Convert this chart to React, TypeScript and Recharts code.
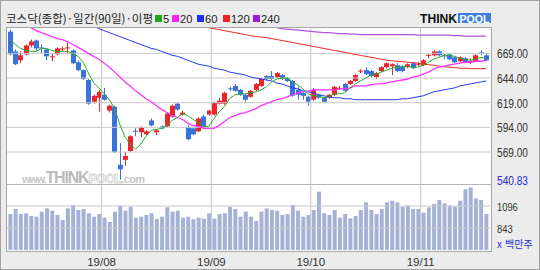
import React from "react";
import { ComposedChart, Bar, Line, XAxis, YAxis, ReferenceLine } from "recharts";

// 코스닥 일봉, 2019-07-08 ~ 2019-11-19
const dates = [
  "2019-07-08", "2019-07-09", "2019-07-10", "2019-07-11", "2019-07-12", "2019-07-15", "2019-07-16", "2019-07-17", "2019-07-18", "2019-07-19",
  "2019-07-22", "2019-07-23", "2019-07-24", "2019-07-25", "2019-07-26", "2019-07-29", "2019-07-30", "2019-07-31",
  "2019-08-01", "2019-08-02", "2019-08-05", "2019-08-06", "2019-08-07", "2019-08-08", "2019-08-09", "2019-08-12", "2019-08-13", "2019-08-14",
  "2019-08-16", "2019-08-19", "2019-08-20", "2019-08-21", "2019-08-22", "2019-08-23", "2019-08-26", "2019-08-27", "2019-08-28", "2019-08-29", "2019-08-30",
  "2019-09-02", "2019-09-03", "2019-09-04", "2019-09-05", "2019-09-06", "2019-09-09", "2019-09-10", "2019-09-11", "2019-09-16", "2019-09-17",
  "2019-09-18", "2019-09-19", "2019-09-20", "2019-09-23", "2019-09-24", "2019-09-25", "2019-09-26", "2019-09-27", "2019-09-30",
  "2019-10-01", "2019-10-02", "2019-10-04", "2019-10-07", "2019-10-08", "2019-10-10", "2019-10-11", "2019-10-14", "2019-10-15", "2019-10-16",
  "2019-10-17", "2019-10-18", "2019-10-21", "2019-10-22", "2019-10-23", "2019-10-24", "2019-10-25", "2019-10-28", "2019-10-29", "2019-10-30", "2019-10-31",
  "2019-11-01", "2019-11-04", "2019-11-05", "2019-11-06", "2019-11-07", "2019-11-08", "2019-11-11", "2019-11-12", "2019-11-13", "2019-11-14",
  "2019-11-15", "2019-11-18", "2019-11-19",
];

const opens = [
  691, 671, 662, 668, 677, 682, 675, 673, 665, 668,
  673, 674, 672, 660, 652, 642, 620, 624, 627, 611,
  615, 556, 561, 570, 590.5, 589, 587, 601, 589, 595,
  595, 605, 618, 607, 594, 593, 590, 605, 607, 607,
  618, 618, 633.5, 636, 632, 627, 625, 632, 636, 646,
  646, 645, 647, 644, 641, 632, 629, 625, 622, 627,
  624, 624, 627, 633.5, 638, 638, 641, 651, 652, 651,
  645, 651, 655, 656, 657, 656, 655, 659, 657.5, 657,
  667, 667, 671, 667, 668, 665, 661, 664, 660.5, 661,
  670, 667,
];
const highs = [
  693, 673, 671, 678, 683, 683, 678, 674, 669, 675,
  676, 680, 673, 662, 653, 643, 627, 632, 634, 617,
  616, 578, 569, 586, 593, 595, 591, 603, 592, 596,
  609, 617, 619, 611, 596, 594, 604, 607, 612, 620,
  624, 630, 635, 638, 633, 628, 632, 639, 644, 647,
  651, 650, 648, 645, 642, 635, 630, 626, 634, 628,
  625, 628, 636, 636, 639, 642, 648, 653, 655, 652,
  650, 656, 660, 659, 659, 657, 659, 660, 660, 663,
  669, 672, 672, 669, 669, 666, 666, 665, 664, 668,
  672, 669,
];
const lows = [
  667, 657, 659, 667, 675, 672, 669, 662, 661, 667,
  671, 668, 658, 651, 642, 617, 618, 610, 621, 609,
  568, 540.83, 555, 569, 585, 584, 586, 595, 586, 592,
  594, 604, 611, 606, 581, 586, 589, 593, 606, 606,
  617, 617, 631, 630, 626, 620, 624, 631, 635, 642,
  642, 644, 642, 640, 625, 622, 622, 616, 621, 623,
  619, 623, 626, 632, 630, 637, 640, 649, 647, 645,
  643, 650, 654, 647, 650, 650, 654, 653, 656, 656,
  664, 666, 666, 663, 662, 659, 660, 659, 658, 660,
  667, 661,
];
const closes = [
  668, 658, 667, 677, 681, 674, 674, 666, 666, 674,
  674, 675, 659, 652, 643, 618, 626, 630, 622, 616,
  569, 551.5, 565, 585, 589.5, 594, 590, 596, 591, 593,
  608, 616, 612, 609, 582, 587, 603, 594, 611, 619,
  621, 629, 633, 631, 627, 622, 631, 638, 643, 643,
  643, 649, 643, 641, 626, 627, 626, 620, 632, 624,
  620, 627, 635, 634, 631, 641, 647, 651.5, 648, 646,
  649, 655, 659, 658, 651, 651, 658, 654, 658, 662,
  667.5, 671, 667, 666.5, 663, 660, 665, 660, 661, 667,
  669.5, 662,
];
// 거래량 (백만주)
const volumes = [
  1004, 1062, 1004, 1012, 981, 973, 1031, 1069, 1042, 993,
  935, 1069, 1108, 1050, 1062, 1012, 973, 1004, 962, 912,
  1031, 1100, 1042, 1088, 962, 973, 993, 1012, 947, 973,
  1081, 1031, 1042, 962, 973, 943, 962, 950, 1012, 950,
  1004, 1012, 1088, 1062, 973, 1031, 973, 924, 1031, 1069,
  1050, 1042, 993, 1004, 1108, 1042, 973, 993, 1050, 1261,
  1012, 993, 1050, 962, 1004, 954, 981, 1050, 1138, 1050,
  1004, 1062, 1138, 1157, 1138, 1088, 1100, 1062, 1062, 1019,
  1081, 1119, 1165, 1127, 1100, 1088, 1157, 1290, 1310, 1184,
  1165, 1004,
];

// 이동평균 (첫 값의 위치는 *Start)
const ma5 = [
  683, 678, 674, 672, 671, 671, 674, 674, 672, 671,
  671, 671, 669, 666, 660, 649, 639, 634, 628, 622,
  613, 597, 584, 577, 572, 577, 585, 591, 592, 593,
  596, 601, 604, 608, 606, 602, 599, 595, 595, 603,
  610, 615, 623, 627, 628, 628, 629, 630, 632, 635,
  640, 643, 644, 644, 640, 637, 633, 628, 626, 626,
  624, 625, 628, 628, 629, 634, 638, 641, 644, 647,
  648, 650, 652, 654, 655, 655, 656, 655, 655, 657,
  660, 663, 665, 667, 667, 666, 664, 663, 662, 663,
  665, 664,
];
const ma20Start = 4;
const ma20 = [
  695, 692, 690, 688, 686, 684, 683, 681, 678, 675,
  672, 669, 666, 663, 659, 655, 650, 645, 640, 636,
  631, 627, 623, 620, 616, 612, 609, 606, 604, 602,
  598, 596, 595, 593, 593, 593, 596, 600, 604, 606,
  608, 609, 611, 613, 616, 618, 620, 622, 623, 625,
  627, 629, 630, 631, 632, 632, 632, 632, 632, 633,
  633, 634, 636, 636, 636, 637, 638, 638, 639, 640,
  641, 642, 643, 645, 646, 648, 650, 653, 655, 656,
  657, 658, 659, 660, 660, 661, 661, 662,
];
const ma60Start = 16;
const ma60 = [
  697, 694, 692, 690, 688, 686, 684, 682, 680, 678,
  676, 674, 673, 671, 669, 667, 666, 664, 662, 660,
  658, 657, 656, 654, 653, 652, 650, 649, 648, 647,
  645, 644, 643, 642, 641, 639, 638, 636, 634, 633,
  631, 630, 629, 627, 626, 625, 624, 624, 623, 623,
  622, 622, 622, 622, 622, 622, 622, 622, 622, 623,
  623, 624, 625, 626, 628, 630, 631, 632, 633, 634,
  636, 637, 638, 639, 640, 641,
];
const ma120Start = 37;
const ma120 = [
  697, 695, 694, 693, 692, 691, 690, 689, 688, 687,
  686, 685.5, 685, 684, 683, 682, 681, 680, 679, 678,
  677, 676, 675, 674, 673, 672, 671, 670, 669, 668,
  667, 666, 665, 664, 663, 662, 661.5, 661, 660.5, 660,
  659.5, 659, 658, 657.5, 657, 656, 655.5, 655, 654.5, 654,
  654, 653.5, 653.5, 653.5, 653.5,
];
const ma240Start = 51;
const ma240 = [
  695, 694, 693.5, 693, 692.5, 692, 691.5, 691, 690.5, 690,
  690, 689.5, 689, 689, 688.5, 688.5, 688, 688, 688, 688,
  688, 688, 688, 688, 688, 688, 688, 687.5, 687.5, 687.5,
  687.5, 687.5, 687.5, 687.5, 687, 687, 686.5, 686.5, 686.5, 686.5,
  686.5,
];

const priceTicks = [569, 594, 619, 644, 669];
const volumeTicks = [843, 1096];
const monthLabels = ["19/08", "19/09", "19/10", "19/11"];

const RED = "#E8262B";
const BLUE = "#3A72DC";
const VOL = "#A5B2D5";
const GRID = "#C8C8C8";
const NUM_FONT = "'Liberation Sans', Arial, sans-serif";
const KR_FONT = "'Noto Sans CJK KR', sans-serif";

const X_DOMAIN = [-0.5735, 91.765];
const PRICE_DOMAIN = [469.7, 694.7];
const VOL_DOMAIN = [590, 3143];

const pick = (arr: number[], start: number, i: number) => (i >= start ? arr[i - start] : null);

const rows = dates.map((date, i) => ({
  idx: i,
  date,
  open: opens[i],
  high: highs[i],
  low: lows[i],
  close: closes[i],
  vol: volumes[i],
  ma5: ma5[i],
  ma20: pick(ma20, ma20Start, i),
  ma60: pick(ma60, ma60Start, i),
  ma120: pick(ma120, ma120Start, i),
  ma240: pick(ma240, ma240Start, i),
}));

const lowMark = Math.min(...lows);

// 월 경계: 그 달 첫 거래일 바로 앞
const monthStarts = monthLabels.map((label) => {
  const mm = label.slice(3);
  return dates.findIndex((d) => d.slice(5, 7) === mm) - 0.5;
});

function Candle(props: any) {
  const { x, y, width, height, payload } = props;
  if (!payload || x == null) return null;
  const { open, close, high, low } = payload;
  const top = Math.min(y, y + height);
  const bottom = Math.max(y, y + height);
  const toY = (v: number) => top + ((high - v) / (high - low)) * (bottom - top);
  const color = close >= open ? RED : BLUE;
  const c = Math.round(x + width / 2);
  const bTop = toY(Math.max(open, close));
  const bH = Math.max(1, toY(Math.min(open, close)) - bTop);
  return (
    <g>
      <line x1={c + 0.5} x2={c + 0.5} y1={top} y2={bottom} stroke={color} strokeWidth={1} />
      <rect x={c - 2} y={bTop} width={5} height={bH} fill={color} />
    </g>
  );
}

function PriceTick(props: any) {
  const { y, payload } = props;
  const v = payload.value;
  return (
    <text x={497} y={y + 5} fontSize={12} fontFamily={NUM_FONT} textLength={31} lengthAdjust="spacingAndGlyphs"
      fill={v === lowMark ? "#2B2BD6" : "#333"}>
      {v.toFixed(2)}
    </text>
  );
}

function volLabel(v: number) {
  const s = String(v);
  return (p: any) => (
    <text x={497} y={p.viewBox.y + 4.5} fontSize={11.5} fontFamily={NUM_FONT} textLength={s.length * 5.2}
      lengthAdjust="spacingAndGlyphs" fill="#333">
      {s}
    </text>
  );
}

function MonthTick(props: any) {
  const { x, payload } = props;
  const i = monthStarts.indexOf(payload.value);
  return (
    <text x={x} y={266} textAnchor="middle" fontSize={11.5} fontFamily={NUM_FONT} fill="#333">
      {monthLabels[i]}
    </text>
  );
}

const legend = [
  { label: "5", color: "#1FA51F", x: 155 },
  { label: "20", color: "#FF22FF", x: 172 },
  { label: "60", color: "#1F2FF0", x: 197 },
  { label: "120", color: "#F02020", x: 223 },
  { label: "240", color: "#9A1FD0", x: 253 },
];

export default function App() {
  return (
    <div style={{ position: "absolute", left: 0, top: 0, width: 540, height: 270, background: "#ECECEC", border: "1px solid #A2A2A2", boxSizing: "border-box", overflow: "hidden" }}>
      {/* plot background */}
      <div style={{ position: "absolute", left: 6, top: 27, width: 484, height: 223, background: "#FFFFFF" }} />

      {/* watermark behind the chart */}
      <svg width={540} height={270} style={{ position: "absolute", left: -1, top: -1 }}>
        <text x={22} y={183} fontWeight="bold" fontFamily={NUM_FONT}>
          <tspan fontSize={11} fill="#C6C6C6" letterSpacing={-1.2}>www.</tspan>
          <tspan fontSize={16} fill="#BBBBBB" letterSpacing={-1.2}>THINK</tspan>
          <tspan fontSize={13} fill="#FFFFFF" stroke="#D0D0D0" strokeWidth={0.8} letterSpacing={-1}>POOL</tspan>
          <tspan fontSize={11} fill="#C6C6C6" letterSpacing={-0.6}>.com</tspan>
        </text>
      </svg>

      <div style={{ position: "absolute", left: -1, top: -1 }}>
        <ComposedChart width={540} height={270} data={rows} margin={{ top: 28, right: 0, bottom: 0, left: 7 }}>
          <XAxis xAxisId="x" dataKey="idx" type="number" domain={X_DOMAIN} allowDataOverflow ticks={monthStarts}
            tick={(p: any) => <MonthTick {...p} />} axisLine={false} tickLine={false} height={20} interval={0} />
          <XAxis xAxisId="v" dataKey="idx" type="number" domain={X_DOMAIN} allowDataOverflow hide />
          <YAxis yAxisId="price" orientation="right" type="number" domain={PRICE_DOMAIN} allowDataOverflow
            ticks={[lowMark, ...priceTicks]} tick={(p: any) => <PriceTick {...p} />} axisLine={false} tickLine={false} width={50} interval={0} />
          <YAxis yAxisId="vol" orientation="right" type="number" domain={VOL_DOMAIN} allowDataOverflow hide />

          {monthStarts.map((m) => (
            <ReferenceLine key={"m" + m} xAxisId="x" yAxisId="price" x={m} stroke={GRID} />
          ))}
          {priceTicks.map((v) => (
            <ReferenceLine key={"p" + v} xAxisId="x" yAxisId="price" y={v} stroke={GRID} />
          ))}
          {volumeTicks.map((v) => (
            <ReferenceLine key={"v" + v} xAxisId="x" yAxisId="vol" y={v} stroke={GRID} label={volLabel(v)} />
          ))}

          <Bar xAxisId="v" yAxisId="vol" dataKey="vol" fill={VOL} barSize={4} isAnimationActive={false} />
          <Bar xAxisId="x" yAxisId="price" dataKey={(d: any) => [d.low, d.high]} shape={(p: any) => <Candle {...p} />}
            barSize={5} isAnimationActive={false} />

          <Line xAxisId="x" yAxisId="price" dataKey="ma240" stroke="#B452E0" strokeWidth={1.3} dot={false} isAnimationActive={false} />
          <Line xAxisId="x" yAxisId="price" dataKey="ma120" stroke="#F02525" strokeWidth={1} dot={false} isAnimationActive={false} />
          <Line xAxisId="x" yAxisId="price" dataKey="ma60" stroke="#2A35E8" strokeWidth={1} dot={false} isAnimationActive={false} />
          <Line xAxisId="x" yAxisId="price" dataKey="ma20" stroke="#FF33FF" strokeWidth={1.3} dot={false} isAnimationActive={false} />
          <Line xAxisId="x" yAxisId="price" dataKey="ma5" stroke="#2DAA2D" strokeWidth={1} dot={false} isAnimationActive={false} />
        </ComposedChart>
      </div>

      {/* frame and panel separator */}
      <div style={{ position: "absolute", left: 5, top: 26, width: 486, height: 225, border: "1px solid #A6A6A6", boxSizing: "border-box" }} />
      <div style={{ position: "absolute", left: 6, top: 183, width: 484, height: 1, background: "#B4B4B4" }} />

      {/* header, legend, logo, unit */}
      <svg width={540} height={270} style={{ position: "absolute", left: -1, top: -1, pointerEvents: "none" }}>
        <text x={6} y={23} fontSize={11.5} fontFamily={KR_FONT} fill="#222" textLength={147} lengthAdjust="spacingAndGlyphs">
          코스닥(종합)·일간(90일)·이평
        </text>
        {legend.map((l) => (
          <g key={l.label}>
            <rect x={l.x} y={15} width={7} height={7} fill={l.color} />
            <text x={l.x + 8} y={23} fontSize={11.5} fontFamily={NUM_FONT} fill="#222" textLength={l.label.length * 6.2} lengthAdjust="spacingAndGlyphs">
              {l.label}
            </text>
          </g>
        ))}
        <text x={420} y={23} fontSize={12} fontWeight="bold" fontFamily={NUM_FONT} fill="#111" textLength={37} lengthAdjust="spacingAndGlyphs">THINK</text>
        <rect x={458} y={13} width={33} height={10} fill="#3D7FDF" />
        <text x={459.5} y={22.5} fontSize={11} fontWeight="bold" fontFamily={NUM_FONT} fill="#FFFFFF" textLength={30} lengthAdjust="spacingAndGlyphs">POOL</text>
        <text x={497} y={248} fontSize={10} fontFamily={KR_FONT} fill="#2233CC">
          x<tspan dx={3}>백만주</tspan>
        </text>
      </svg>
    </div>
  );
}
